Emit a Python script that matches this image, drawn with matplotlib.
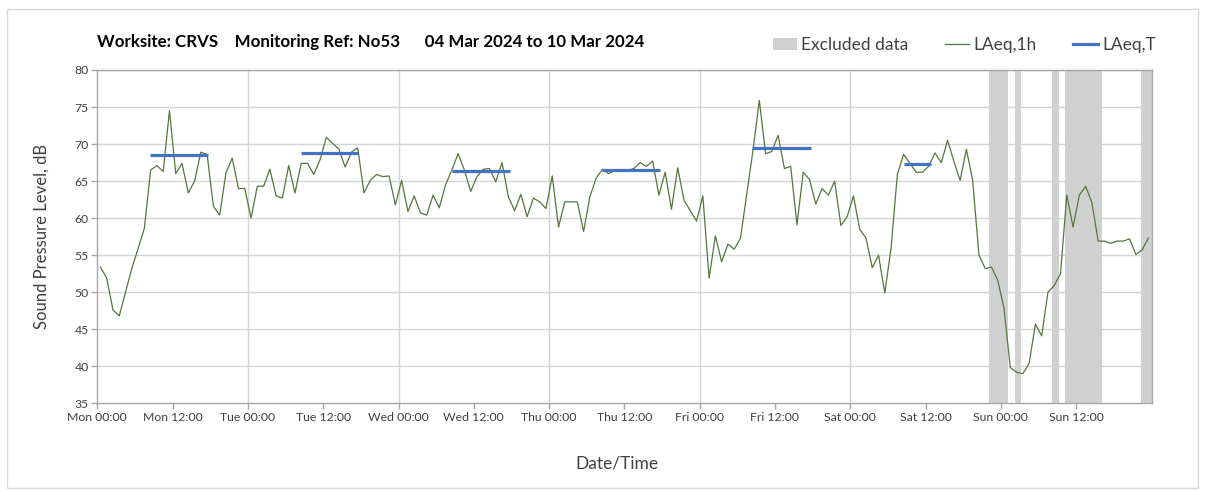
import numpy as np
import matplotlib
matplotlib.use("Agg")
import matplotlib.pyplot as plt
from matplotlib.patches import Patch, Rectangle
from matplotlib.lines import Line2D

plt.rcParams['font.family'] = ['Lato', 'DejaVu Sans']

# hourly LAeq,1h values, Mon 00:00 .. Sun 23:00
laeq_1h = [
    53.4, 51.9, 47.6, 46.8, 50.0, 53.2, 55.9, 58.6, 66.5, 67.1, 66.3, 74.5,
    66.0, 67.4, 63.4, 65.0, 68.9, 68.6, 61.6, 60.4, 66.1, 68.1, 64.0, 64.0,
    60.0, 64.3, 64.3, 66.6, 63.0, 62.7, 67.1, 63.4, 67.4, 67.4, 65.9, 67.9,
    70.9, 70.1, 69.3, 66.9, 68.9, 69.5, 63.4, 65.1, 65.9, 65.6, 65.7, 61.8,
    65.1, 60.9, 63.0, 60.7, 60.4, 63.1, 61.4, 64.5, 66.5, 68.7, 66.5, 63.6,
    65.6, 66.6, 66.7, 64.9, 67.5, 62.9, 61.0, 63.2, 60.2, 62.7, 62.2, 61.3,
    65.7, 58.8, 62.2, 62.2, 62.2, 58.2, 62.9, 65.4, 66.6, 66.0, 66.5, 66.3,
    66.4, 66.7, 67.5, 67.0, 67.7, 63.1, 66.2, 61.2, 66.8, 62.4, 61.0, 59.6,
    63.0, 51.9, 57.6, 54.1, 56.5, 55.8, 57.3, 63.3, 69.2, 75.9, 68.7, 69.0,
    71.2, 66.7, 67.0, 59.1, 66.2, 65.2, 61.9, 64.0, 63.1, 65.0, 59.0, 60.2,
    63.0, 58.5, 57.3, 53.3, 55.0, 49.9, 56.0, 65.9, 68.6, 67.4, 66.2, 66.2,
    67.0, 68.8, 67.5, 70.5, 67.7, 65.1, 69.3, 65.1, 55.0, 53.2, 53.4, 51.6,
    47.8, 39.8, 39.2, 39.0, 40.4, 45.7, 44.1, 50.0, 50.9, 52.5, 63.1, 58.8,
    63.1, 64.3, 62.1, 56.9, 56.9, 56.6, 56.9, 56.9, 57.2, 55.1, 55.7, 57.3,
]

# LAeq,T daytime periods (hours from Mon 00:00)
laeq_t_start = [8.4, 32.5, 56.5, 80.5, 104.4, 128.5]
laeq_t_end = [17.7, 41.6, 65.8, 89.7, 113.7, 132.8]
laeq_t_level = [68.5, 68.8, 66.35, 66.5, 69.5, 67.3]

# excluded data spans (hours)
excl_start = [142.1, 146.25, 152.1, 154.2, 166.3]
excl_end = [145.1, 147.15, 153.2, 160.1, 168.0]

tick_labels = ['Mon 00:00', 'Mon 12:00', 'Tue 00:00', 'Tue 12:00', 'Wed 00:00',
               'Wed 12:00', 'Thu 00:00', 'Thu 12:00', 'Fri 00:00', 'Fri 12:00',
               'Sat 00:00', 'Sat 12:00', 'Sun 00:00', 'Sun 12:00']

W, H = 1205, 491
fig = plt.figure(figsize=(W / 100, H / 100), dpi=100)
ax = fig.add_axes([97.3 / W, 1 - 403.3 / H, (1151.5 - 97.3) / W, (403.3 - 70) / H])

grey = '#404040'
green = '#55763c'
blue = '#4472c4'

for s, e in zip(excl_start, excl_end):
    ax.axvspan(s, e, color='#d0d0d0', lw=0, zorder=1)

hours = np.arange(len(laeq_1h)) + 0.5
ax.plot(hours, laeq_1h, color=green, lw=0.9, zorder=3)

for s, e, lv in zip(laeq_t_start, laeq_t_end, laeq_t_level):
    ax.plot([s, e], [lv, lv], color=blue, lw=2.3, zorder=4, solid_capstyle='butt')

ax.set_xlim(0, 168)
ax.set_ylim(35, 80)
ax.set_xticks(np.arange(0, 168, 12))
ax.set_xticklabels(tick_labels)
ax.set_yticks(np.arange(35, 81, 5))

ax.grid(False)
for y in range(40, 81, 5):
    ax.axhline(y, color='#d4d4d4', lw=1.0, zorder=0)
for x in range(24, 169, 24):
    ax.axvline(x, color='#d4d4d4', lw=1.0, zorder=0)

for side in ['top', 'right']:
    ax.spines[side].set_visible(False)
for side in ['left', 'bottom']:
    ax.spines[side].set_color('#a6a6a6')
    ax.spines[side].set_linewidth(1.0)
ax.plot([0, 168], [80, 80], color='#a6a6a6', lw=1.0, zorder=2, clip_on=False)
ax.plot([168, 168], [35, 80], color='#a6a6a6', lw=1.0, zorder=2, clip_on=False)

ax.tick_params(axis='both', which='major', direction='out', length=4, width=1,
               color='#a6a6a6', labelcolor=grey, labelsize=8.8, pad=2)

ax.set_ylabel('Sound Pressure Level, dB', fontsize=12, color=grey, labelpad=18)
ax.set_xlabel('Date/Time', fontsize=12.5, color=grey)
ax.xaxis.set_label_coords((617 - 97.3) / (1151.5 - 97.3), -0.156)

fig.text(97 / W, 1 - 42 / H,
         'Worksite: CRVS    Monitoring Ref: No53      04 Mar 2024 to 10 Mar 2024',
         fontsize=12.2, fontweight='bold', color='black', va='center', ha='left')

handles = [Patch(facecolor='#d0d0d0', edgecolor='none'),
           Line2D([], [], color=green, lw=0.9),
           Line2D([], [], color=blue, lw=2.3)]
fig.legend(handles, ['Excluded data', 'LAeq,1h', 'LAeq,T'], ncol=3,
           loc='center right', bbox_to_anchor=(1168 / W, 1 - 45 / H),
           frameon=False, fontsize=12.5, handlelength=1.4, handletextpad=0.25,
           columnspacing=2.1, labelcolor=grey, borderaxespad=0.3)

fig.patches.append(Rectangle((7 / W, 1 - 488 / H), (1198 - 7) / W, (488 - 9) / H,
                             transform=fig.transFigure, fill=False,
                             edgecolor='#d9d9d9', lw=1.0))

fig.savefig('out.png', dpi=100)
